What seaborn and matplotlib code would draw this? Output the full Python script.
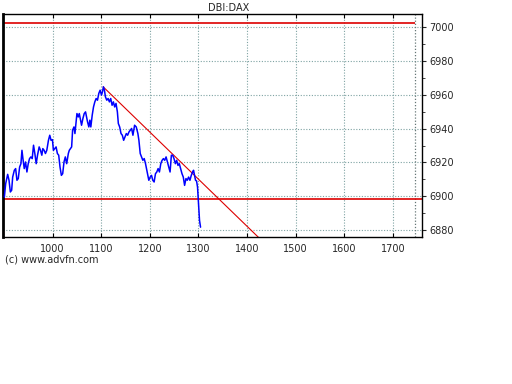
"""Recreate the advfn DBI:DAX intraday chart."""
import matplotlib
matplotlib.use("Agg")
import matplotlib.pyplot as plt
import pandas as pd
import seaborn as sns
from matplotlib.ticker import MultipleLocator

sns.set_style("white")
plt.rcParams["font.family"] = ["DejaVu Sans"]

# price series (x = tick index, y = index level)
ticks = [
    900.8, 903.5, 907.6, 910.4, 913.1, 915.8, 917.9, 921.3, 924.0, 926.7,
    929.4, 932.2, 934.9, 937.0, 939.0, 941.7, 944.4, 947.2, 949.9, 952.6,
    955.4, 958.1, 960.8, 963.5, 966.3, 969.0, 972.4, 975.1, 977.9, 979.9,
    982.6, 985.3, 988.1, 991.5, 994.2, 996.9, 999.7, 1001.7, 1004.4, 1007.2,
    1009.9, 1012.6, 1015.3, 1018.1, 1020.8, 1023.5, 1026.2, 1029.0, 1032.4, 1034.4,
    1039.2, 1041.2, 1044.0, 1046.0, 1048.1, 1050.1, 1052.8, 1054.9, 1057.6, 1059.6,
    1062.4, 1065.1, 1067.8, 1069.9, 1071.9, 1074.6, 1076.7, 1078.7, 1081.5, 1084.2,
    1086.9, 1089.6, 1092.4, 1095.1, 1097.8, 1100.6, 1102.6, 1104.6, 1106.7, 1108.7,
    1111.5, 1114.2, 1116.9, 1119.6, 1122.4, 1125.1, 1127.8, 1130.5, 1133.3, 1135.3,
    1138.0, 1140.8, 1143.5, 1146.2, 1148.9, 1151.7, 1154.4, 1157.1, 1159.9, 1162.6,
    1165.3, 1168.7, 1172.1, 1175.5, 1177.6, 1180.3, 1183.0, 1185.7, 1188.5, 1191.2,
    1193.9, 1196.0, 1198.0, 1200.8, 1203.5, 1206.2, 1208.9, 1211.7, 1214.4, 1217.1,
    1219.8, 1222.6, 1225.3, 1228.0, 1230.7, 1233.5, 1236.2, 1238.9, 1241.7, 1244.4,
    1247.1, 1249.8, 1252.6, 1255.3, 1258.0, 1260.7, 1263.5, 1266.2, 1268.9, 1271.6,
    1274.4, 1277.1, 1279.8, 1282.6, 1285.3, 1288.0, 1290.0, 1292.1, 1294.1, 1296.2,
    1298.2, 1299.6, 1300.9, 1302.3, 1304.4,
]
prices = [
    6899.6, 6907.5, 6913.0, 6909.5, 6902.6, 6903.6, 6911.4, 6915.4, 6916.4, 6909.5,
    6910.5, 6917.3, 6919.3, 6927.2, 6922.3, 6916.4, 6920.3, 6914.4, 6919.3, 6922.3,
    6923.3, 6922.3, 6930.2, 6925.3, 6919.3, 6924.3, 6929.2, 6927.2, 6924.3, 6928.2,
    6927.2, 6925.3, 6927.2, 6933.1, 6936.1, 6933.1, 6933.5, 6927.2, 6928.2, 6929.2,
    6925.3, 6924.3, 6917.3, 6912.4, 6913.4, 6920.3, 6923.3, 6919.3, 6925.3, 6927.2,
    6929.2, 6939.1, 6941.0, 6937.1, 6943.0, 6948.9, 6946.9, 6948.9, 6945.0, 6942.0,
    6946.0, 6948.9, 6949.9, 6946.9, 6944.0, 6941.0, 6945.0, 6941.0, 6947.9, 6952.8,
    6955.8, 6957.8, 6956.8, 6960.8, 6962.7, 6959.8, 6961.7, 6964.7, 6962.7, 6958.8,
    6956.8, 6957.8, 6955.8, 6957.8, 6953.8, 6955.8, 6952.8, 6954.9, 6949.9, 6943.0,
    6941.0, 6937.1, 6936.1, 6933.1, 6935.1, 6937.1, 6936.1, 6938.0, 6939.1, 6940.1,
    6936.1, 6942.0, 6941.0, 6937.1, 6933.1, 6925.3, 6923.3, 6921.3, 6922.3, 6919.3,
    6915.4, 6912.4, 6909.5, 6911.4, 6912.4, 6909.5, 6908.5, 6913.4, 6914.4, 6916.4,
    6914.4, 6919.3, 6921.3, 6922.3, 6921.3, 6923.3, 6920.3, 6917.3, 6914.4, 6924.3,
    6924.3, 6922.3, 6919.3, 6921.3, 6918.3, 6919.3, 6916.4, 6913.4, 6911.4, 6906.5,
    6910.5, 6909.5, 6911.4, 6909.5, 6912.4, 6914.4, 6915.4, 6912.4, 6909.5, 6909.1,
    6905.5, 6898.6, 6891.7, 6885.8, 6881.8,
]

# drawn lines: resistance levels and falling trend line
resistance_top = 7002.2
support_low = 6898.2
trend_x = [1104.0, 1430.0]
trend_y = [6964.7, 6874.0]
marker_x = 1745

x_ticks = [1000, 1100, 1200, 1300, 1400, 1500, 1600, 1700]
y_ticks = [6880, 6900, 6920, 6940, 6960, 6980, 7000]

df = pd.DataFrame({"tick": ticks, "price": prices})

fig = plt.figure(figsize=(5.12, 3.84), dpi=100)
ax = fig.add_axes([3 / 512, 1 - 237 / 384, 419 / 512, 223 / 384])

ax.set_xlim(898, 1760)
ax.set_ylim(6876, 7007.7)

grid_kw = dict(color="#7fa3a3", linestyle=(0, (1, 1.5)), linewidth=0.8, zorder=0)
for xv in x_ticks:
    ax.axvline(xv, **grid_kw)
for yv in y_ticks:
    ax.axhline(yv, **grid_kw)
ax.axvline(marker_x, color="#667777", linestyle=(0, (1, 1.5)), linewidth=0.9, zorder=0)

ax.hlines(resistance_top, 898, marker_x, color="#dd0000", linewidth=1.2, zorder=2)
ax.axhline(support_low, color="#dd0000", linewidth=1.2, zorder=2)
ax.plot(trend_x, trend_y, color="#dd0000", linewidth=0.8, zorder=2)

sns.lineplot(data=df, x="tick", y="price", color="#0000ff", linewidth=1.1,
             ax=ax, zorder=3, estimator=None, sort=False)

ax.set_xlabel("")
ax.set_ylabel("")
ax.set_xticks(x_ticks)
ax.set_yticks(y_ticks)
ax.yaxis.set_minor_locator(MultipleLocator(10))
ax.yaxis.tick_right()
ax.tick_params(axis="x", direction="in", length=3, labelsize=7, top=True,
               bottom=True, pad=5, color="black")
ax.tick_params(axis="y", which="major", direction="out", length=3,
               labelsize=7, pad=2, left=False, right=True)
ax.tick_params(axis="y", which="minor", direction="out", length=2,
               left=False, right=True)

for side, spine in ax.spines.items():
    spine.set_visible(True)
    spine.set_color("black")
    spine.set_linewidth(1.0)
ax.spines["left"].set_linewidth(2.0)

fig.text(229 / 512, 1 - 8 / 384, "DBI:DAX", ha="center", va="center", fontsize=7)
fig.text(5 / 512, 1 - 259 / 384, "(c) www.advfn.com", ha="left", va="center",
         fontsize=7)

fig.savefig("out.png", dpi=100, facecolor="white")
